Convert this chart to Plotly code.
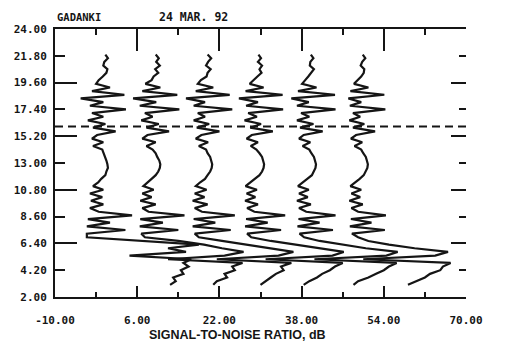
import plotly.graph_objects as go

# ---------------- data ----------------
HEIGHTS_KM = [21.9, 21.6, 21.3, 21.0, 20.7, 20.4, 20.1, 19.8, 19.5, 19.2,
              18.9, 18.6, 18.3, 18.0, 17.7, 17.4, 17.1, 16.8, 16.5, 16.2,
              15.9, 15.6, 15.3, 15.0, 14.7, 14.4, 14.1, 13.8, 13.5, 13.2,
              12.9, 12.6, 12.3, 12.0, 11.7, 11.4, 11.1, 10.8, 10.5, 10.2,
              9.9, 9.6, 9.3, 9.0, 8.7, 8.4, 8.1, 7.8, 7.5, 7.2,
              6.9, 6.6, 6.3, 6.0, 5.7, 5.4, 5.1, 4.8, 4.5, 4.2,
              3.9, 3.6, 3.3, 3.0]

# horizontal display offset of each successive profile (dB)
PROFILE_OFFSETS_DB = [0, 10, 20, 30, 40, 50]

SNR_P1 = [-0.2, 0.3, -0.4, -0.6, 0.2, 0.0, -0.7, -1.5, -2.0, 0.7,
          -2.8, 3.5, -5.0, -0.6, -3.2, 3.8, -2.8, -0.6, -3.6, -0.2,
          -2.6, 1.8, -1.8, -2.8, -0.6, -2.6, -0.8, -0.5, -0.2, 0.0,
          0.2, 0.3, 0.0, -0.2, -1.0, -1.6, -2.6, -0.6, -3.2, -0.8,
          -3.0, -0.6, -3.2, -1.5, 5.0, -3.6, 0.7, -3.8, 3.7, -3.8,
          -3.8, 8.0, 18.0, 12.0, 15.5, 4.5, 16.5, 15.0, 16.0, 14.5,
          15.0, 13.0, 13.5, 12.4]
SNR_P2 = [-0.4, 0.2, -0.3, 0.4, -0.5, 0.1, -0.8, -1.2, -2.4, 0.5,
          -3.0, 3.8, -4.8, -0.3, -3.5, 4.2, -2.5, -1.0, -3.2, 0.2,
          -2.2, 2.2, -2.0, -3.0, -0.4, -2.2, -1.0, -0.4, -0.1, 0.3,
          0.5, 0.4, 0.1, -0.4, -1.2, -2.0, -2.8, -0.8, -3.0, -1.2,
          -3.4, -0.4, -3.0, -1.8, 5.2, -3.4, 1.0, -3.5, 4.0, -3.2,
          -2.5, 4.0, 9.0, 12.5, 16.7, 13.0, 2.0, 16.5, 14.5, 15.0,
          13.0, 13.5, 11.5, 10.8]
SNR_P3 = [-0.3, 0.4, -0.2, -0.6, 0.3, -0.3, -0.5, -1.6, -2.2, 0.8,
          -2.6, 4.0, -4.5, -0.8, -3.0, 4.5, -2.2, -0.8, -3.0, 0.0,
          -2.4, 2.0, -1.5, -2.6, -0.2, -2.0, -0.6, -0.3, 0.2, 0.4,
          0.6, 0.5, 0.2, -0.3, -0.8, -1.8, -2.6, -0.5, -2.8, -0.9,
          -3.2, -0.3, -2.8, -1.4, 5.0, -3.0, 1.2, -3.2, 4.2, -2.8,
          -2.0, 2.5, 7.0, 11.5, 16.4, 13.5, 1.5, 16.0, 14.0, 14.5,
          13.0, 12.0, 11.0, 10.0]
SNR_P4 = [-0.4, 0.1, -0.5, 0.3, -0.2, 0.2, -0.6, -1.4, -2.1, 0.6,
          -2.9, 4.3, -4.2, -0.5, -2.8, 4.4, -2.4, -0.7, -3.1, 0.1,
          -2.0, 2.4, -1.7, -2.7, -0.5, -1.9, -0.8, -0.2, 0.3, 0.5,
          0.7, 0.6, 0.3, -0.2, -1.1, -1.9, -2.9, -0.7, -2.7, -1.0,
          -3.0, -0.5, -2.6, -1.2, 4.8, -2.8, 1.4, -3.0, 4.0, -2.6,
          -1.8, 2.0, 6.5, 11.0, 16.2, 14.0, 1.0, 16.0, 14.5, 13.5,
          12.0, 11.0, 9.5, 8.4]
SNR_P5 = [-0.2, 0.3, -0.3, -0.4, 0.4, -0.1, -0.7, -1.3, -1.9, 0.9,
          -2.7, 4.5, -4.0, -0.6, -2.9, 4.6, -2.1, -0.5, -2.9, 0.3,
          -2.3, 2.1, -1.6, -2.5, -0.3, -1.8, -0.5, -0.1, 0.4, 0.6,
          0.8, 0.7, 0.4, 0.0, -0.9, -1.7, -2.7, -0.6, -2.5, -0.8,
          -2.9, -0.2, -2.5, -1.1, 4.6, -2.6, 1.5, -2.8, 4.1, -2.4,
          -1.5, 1.5, 6.0, 10.5, 16.7, 14.5, 0.5, 16.5, 15.0, 14.0,
          12.5, 11.0, 9.0, 8.1]
SNR_P6 = [-0.1, 0.4, -0.2, -0.5, 0.2, 0.1, -0.4, -1.2, -1.8, 1.0,
          -2.5, 4.1, -2.9, -0.4, -2.6, 4.3, -2.0, -0.6, -2.7, 0.2,
          -2.0, 2.3, -1.4, -2.4, -0.2, -1.7, -0.4, 0.0, 0.5, 0.7,
          0.9, 0.8, 0.5, 0.1, -0.7, -1.5, -2.5, -0.4, -2.3, -0.6,
          -2.7, -0.1, -2.3, -1.0, 4.4, -2.4, 1.6, -2.6, 4.2, -2.2,
          -1.0, 1.0, 5.0, 10.0, 16.5, 14.0, 0.0, 17.0, 15.5, 15.0,
          13.0, 12.0, 10.5, 8.7]
PROFILES = [SNR_P1, SNR_P2, SNR_P3, SNR_P4, SNR_P5, SNR_P6]

DASH_HEIGHT_KM = 16.0
X_RANGE = [-10, 70]
Y_RANGE = [2.0, 24.0]
X_TICKS = [-10, 6, 22, 38, 54, 70]
X_MINOR_TICKS = [-2, 14, 30, 46, 62]
Y_TICKS = [2.0, 4.2, 6.4, 8.6, 10.8, 13.0, 15.2, 17.4, 19.6, 21.8, 24.0]
Y_LONG_TICKS = [6.4, 10.8, 15.2, 19.6]
Y_SHORT_TICKS = [4.2, 8.6, 13.0, 17.4, 21.8]

TITLE_SITE = "GADANKI"
TITLE_DATE = "24 MAR. 92"
X_TITLE = "SIGNAL-TO-NOISE RATIO, dB"

# ---------------- figure ----------------
INK = "#151515"
MONO = dict(family="DejaVu Sans Mono", size=11, color=INK, weight="bold")

fig = go.Figure()
for snr, off in zip(PROFILES, PROFILE_OFFSETS_DB):
    fig.add_trace(go.Scatter(x=[v + off for v in snr], y=HEIGHTS_KM, mode="lines",
                             line=dict(color=INK, width=2.2), showlegend=False,
                             hoverinfo="skip"))
fig.add_trace(go.Scatter(x=X_RANGE, y=[DASH_HEIGHT_KM, DASH_HEIGHT_KM], mode="lines",
                         line=dict(color=INK, width=2, dash="8px,5px"),
                         showlegend=False, hoverinfo="skip"))
# empty traces to register the decoration axes
fig.add_trace(go.Scatter(x=[None], y=[None], xaxis="x2", yaxis="y", showlegend=False))
fig.add_trace(go.Scatter(x=[None], y=[None], xaxis="x", yaxis="y2", showlegend=False))
fig.add_trace(go.Scatter(x=[None], y=[None], xaxis="x", yaxis="y3", showlegend=False))

common = dict(showgrid=False, zeroline=False, tickcolor=INK, tickwidth=2, automargin=False)
fig.update_layout(
    template="none",
    width=505, height=352,
    margin=dict(l=55, r=39, t=29, b=55),
    paper_bgcolor="white", plot_bgcolor="white",
    xaxis=dict(range=X_RANGE, showline=True, linecolor=INK, linewidth=2,
               ticks="inside", tickmode="array", tickvals=X_TICKS,
               ticktext=[f"{v:.2f}" for v in X_TICKS], ticklen=11,
               minor=dict(tickmode="array", tickvals=X_MINOR_TICKS, ticks="inside",
                          ticklen=5, tickwidth=2, tickcolor=INK),
               tickfont=MONO, ticklabelstandoff=12, **common),
    xaxis2=dict(range=X_RANGE, overlaying="x", side="top", anchor="y",
                showline=True, linecolor=INK, linewidth=2,
                ticks="inside", tickmode="array", tickvals=X_TICKS, ticklen=22,
                minor=dict(tickmode="array", tickvals=X_MINOR_TICKS, ticks="inside",
                           ticklen=6, tickwidth=2, tickcolor=INK),
                showticklabels=False, **common),
    yaxis=dict(range=Y_RANGE, showline=True, linecolor=INK, linewidth=2,
               ticks="inside", tickmode="array", tickvals=Y_TICKS,
               ticktext=[f"{v:.2f}" for v in Y_TICKS], ticklen=10,
               tickfont=MONO, ticklabelstandoff=4, **common),
    yaxis2=dict(range=Y_RANGE, overlaying="y", side="left", anchor="x",
                showline=False, ticks="inside", tickmode="array",
                tickvals=Y_LONG_TICKS, ticklen=22, showticklabels=False, **common),
    yaxis3=dict(range=Y_RANGE, overlaying="y", side="right", anchor="x",
                showline=False, ticks="inside", tickmode="array",
                tickvals=Y_LONG_TICKS, ticklen=15, showticklabels=False,
                minor=dict(tickmode="array", tickvals=Y_SHORT_TICKS, ticks="inside",
                           ticklen=7, tickwidth=2, tickcolor=INK),
                **common),
    annotations=[
        dict(text=TITLE_SITE, xref="paper", yref="paper", x=0.0, y=1.045,
             xanchor="left", yanchor="middle", showarrow=False,
             font=dict(family="DejaVu Sans Mono", size=10.5, color=INK, weight="bold")),
        dict(text=TITLE_DATE, xref="paper", yref="paper", x=0.248, y=1.045,
             xanchor="left", yanchor="middle", showarrow=False,
             font=dict(family="DejaVu Sans Mono", size=11.5, color=INK, weight="bold")),
        dict(text=X_TITLE, xref="paper", yref="paper", x=0.443, y=-0.14,
             xanchor="center", yanchor="middle", showarrow=False,
             font=dict(family="Liberation Sans", size=12.5, color=INK, weight="bold")),
    ],
)

fig.write_html("out.html", config={"displayModeBar": False},
               post_script="document.body.style.margin='0';document.body.style.padding='0';")
